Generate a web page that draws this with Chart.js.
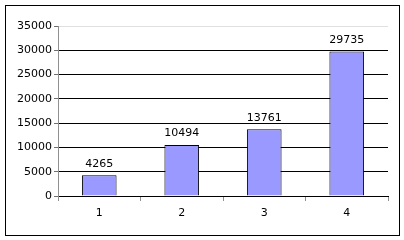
<!DOCTYPE html>
<html>
<head>
<meta charset="utf-8">
<script src="https://cdn.jsdelivr.net/npm/chart.js@4"></script>
<style>
  body { margin: 0; background: #fff; }
  #wrap { position: relative; width: 404px; height: 240px; }
  #frame { position: absolute; left: 5px; top: 5px; width: 393px; height: 229px; border: 1px solid #000; pointer-events: none; }
</style>
</head>
<body>
<div id="wrap">
  <canvas id="chart" width="404" height="240"></canvas>
  <div id="frame"></div>
</div>
<script>
const categories = ['1', '2', '3', '4'];
const values = [4265, 10494, 13761, 29735];
const yTicks = [0, 5000, 10000, 15000, 20000, 25000, 30000, 35000];

// labels above each bar
const valueLabels = {
    id: 'valueLabels',
    afterDatasetsDraw(chart) {
        const ctx = chart.ctx;
        const meta = chart.getDatasetMeta(0);
        ctx.save();
        ctx.font = '11px "DejaVu Sans"';
        ctx.fillStyle = '#000';
        ctx.textAlign = 'center';
        ctx.textBaseline = 'bottom';
        meta.data.forEach((bar, i) => {
            ctx.fillText(values[i], bar.x, bar.y - 6);
        });
        ctx.restore();
    }
};

new Chart(document.getElementById('chart').getContext('2d'), {
    type: 'bar',
    data: {
        labels: categories,
        datasets: [{
            data: values,
            backgroundColor: '#9999ff',
            borderColor: '#000',
            borderWidth: 1,
            barPercentage: 0.42,
            categoryPercentage: 1
        }]
    },
    options: {
        responsive: false,
        animation: false,
        layout: { padding: { left: 0, right: 16, top: 26, bottom: 0 } },
        plugins: { legend: { display: false }, tooltip: { enabled: false } },
        scales: {
            x: {
                grid: {
                    offset: true,
                    drawOnChartArea: false,
                    drawTicks: true,
                    tickLength: 5,
                    tickColor: '#909090'
                },
                border: { color: '#000' },
                ticks: {
                    color: '#000',
                    font: { family: 'DejaVu Sans', size: 11 },
                    padding: 6
                },
                afterFit(scale) { scale.height = 44; }
            },
            y: {
                min: 0,
                max: 35000,
                afterBuildTicks(scale) { scale.ticks = yTicks.map(v => ({ value: v })); },
                grid: {
                    color: ctx => ctx.tick && ctx.tick.value === 35000 ? '#e0e0e0' : '#000',
                    tickColor: '#707070',
                    tickLength: 4
                },
                border: { color: '#909090' },
                ticks: {
                    color: '#000',
                    font: { family: 'DejaVu Sans', size: 11 },
                    padding: 2,
                    callback: v => String(v)
                },
                afterFit(scale) { scale.width = 58; }
            }
        }
    },
    plugins: [valueLabels]
});
</script>
</body>
</html>
